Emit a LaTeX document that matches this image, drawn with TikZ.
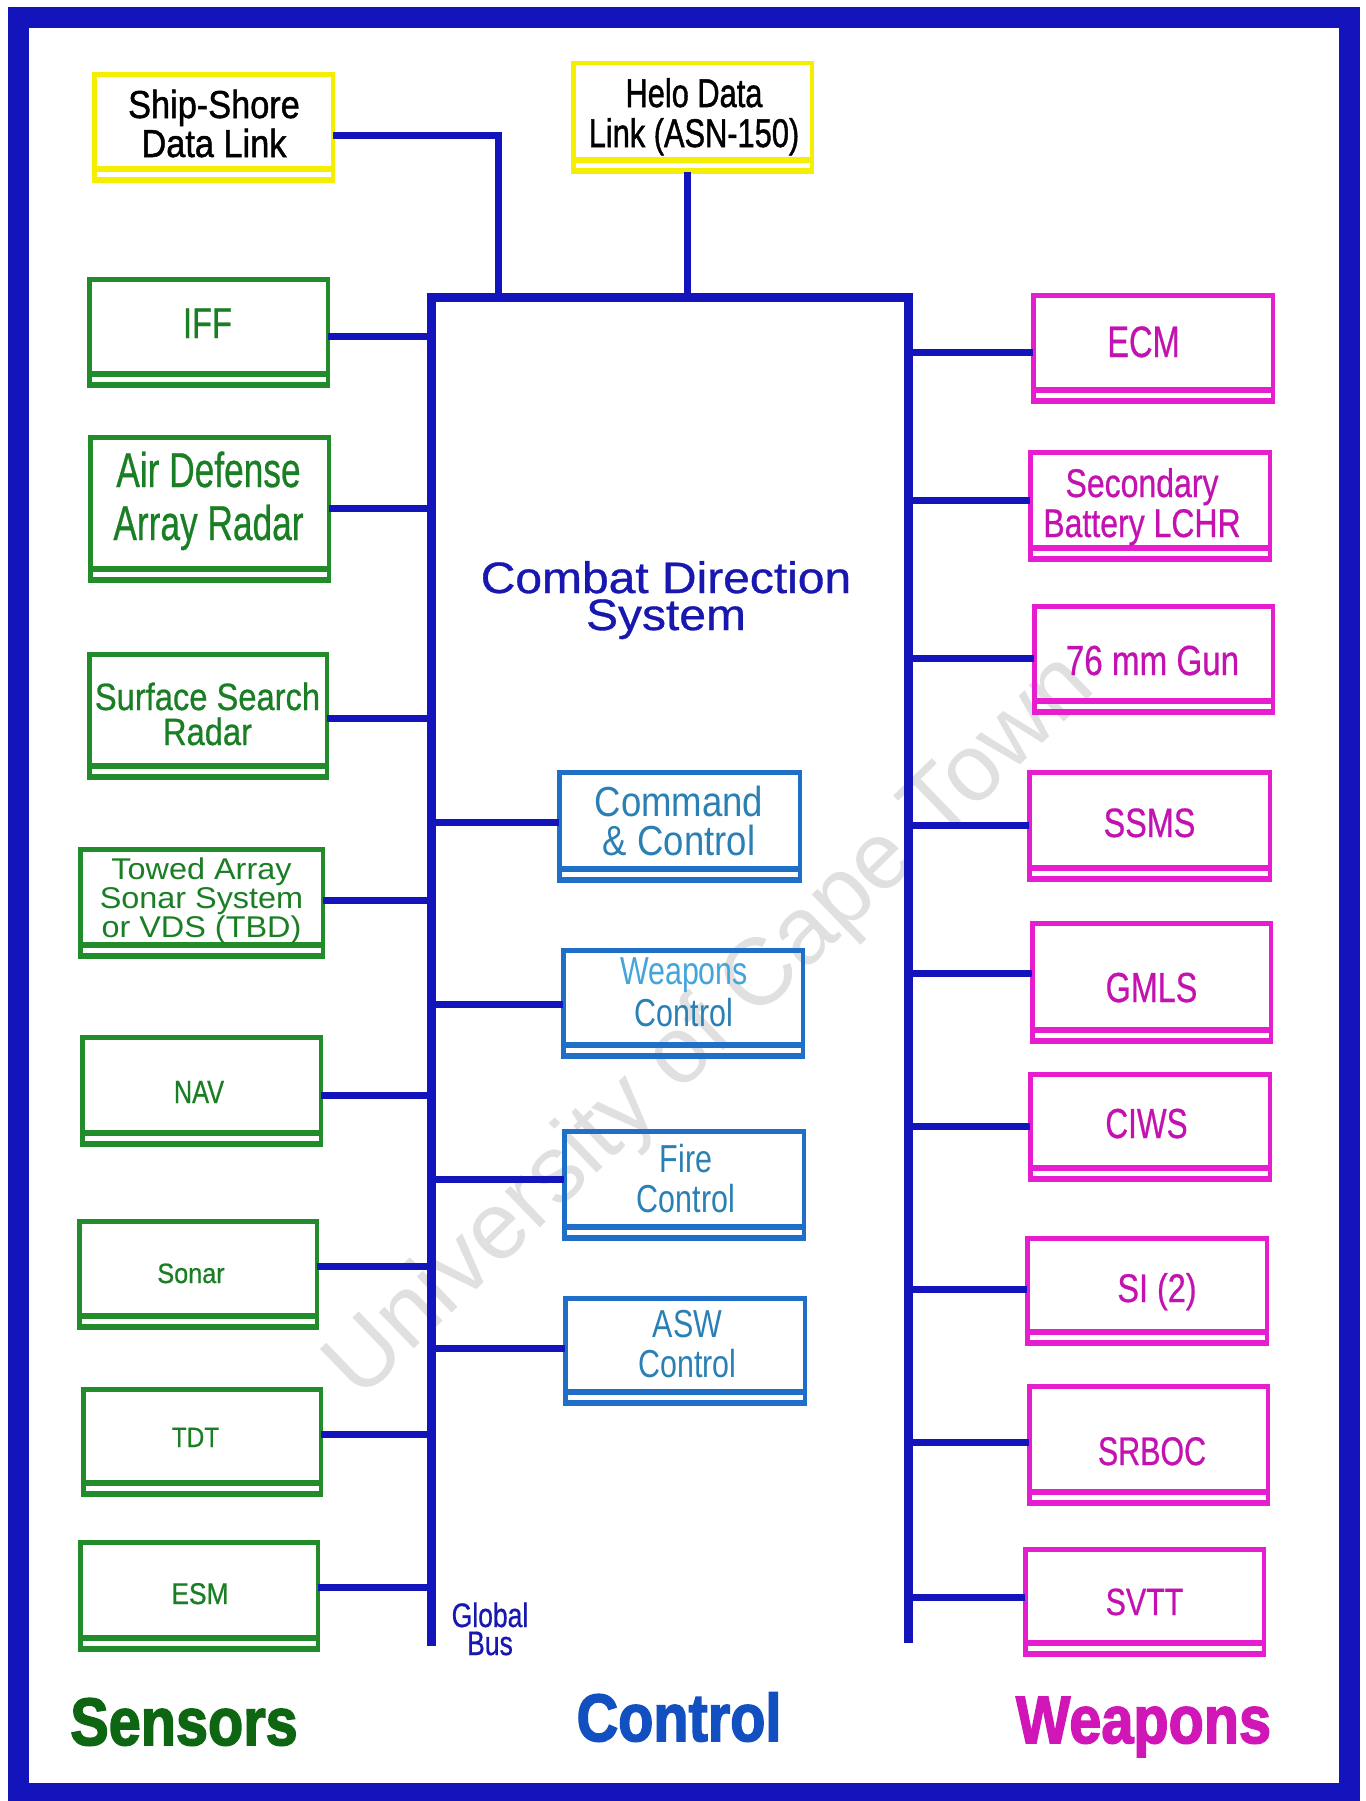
\documentclass[tikz,border=0pt]{standalone}
\usepackage{fontspec}
\usepackage{graphicx}
\setmainfont{Liberation Sans}
\newfontfamily\boxfam[FakeBold=0.7]{Liberation Sans}
\newfontfamily\medfam[FakeBold=1.3]{Liberation Sans}
\newfontfamily\heavy[BoldFeatures={FakeBold=2.5}]{Liberation Sans}
\definecolor{busblue}{HTML}{1414BC}
\definecolor{grn}{HTML}{228B2A}
\definecolor{gtx}{HTML}{1A7F24}
\definecolor{mag}{HTML}{E61ECF}
\definecolor{mtx}{HTML}{C312B0}
\definecolor{ylw}{HTML}{F5EE00}
\definecolor{cbl}{HTML}{1F6FC9}
\definecolor{ctx}{HTML}{2A80B5}
\definecolor{ctxl}{HTML}{45A5DA}
\definecolor{cdsblue}{HTML}{1818B0}
\definecolor{sgreen}{HTML}{0F6612}
\definecolor{cblue}{HTML}{1250C2}
\definecolor{wmag}{HTML}{D116B8}
\newcommand\ml[1]{\vtop{\lineskiplimit=-\maxdimen\lineskip=0pt\halign{\hfil##\hfil\cr#1\crcr}}}
\newcommand\lbl[7][]{\node[lab,#1] (#2) at (#3) {\fontsize{#4}{#5}\selectfont\scalebox{#6}[1]{\ml{#7}}};}
\newcommand\bxn[6]{%
  \node[bx=#2,minimum width={#5-#3-4.5},minimum height={#6-#4-4.5}] (#1) at ({(#3+#5)/2},{(#4+#6)/2}) {};
  \draw[line width=6pt,#2] ([xshift=-2.25pt,yshift=0.75pt]#1.south west) -- ([xshift=2.25pt,yshift=0.75pt]#1.south east);
  \draw[line width=6pt,#2] ([xshift=-2.25pt,yshift=11.75pt]#1.south west) -- ([xshift=2.25pt,yshift=11.75pt]#1.south east);}
\begin{document}
\begin{tikzpicture}[x=1pt,y=-1pt,
  bx/.style={draw=#1,line width=4.5pt,rectangle,inner sep=0pt,outer sep=0pt},
  lab/.style={anchor=base,inner sep=0pt,outer sep=0pt,font=\boxfam},
  conn/.style={draw=busblue,line width=7pt,line join=miter},
  busline/.style={draw=busblue,line width=9pt,line join=miter}]
\useasboundingbox (0,0) rectangle (1365,1801);
\fill[white] (0,0) rectangle (1365,1801);
% watermark
\node[rotate=44,text=black!12,font=\fontsize{95}{95}\selectfont,inner sep=0pt] (wm) at (712,1028) {University of Cape Town};
% outer frame
\draw[busblue,line width=21pt] (18,18) rectangle (1349.5,1793);
% boxes
\bxn{ssdl}{ylw}{92}{72}{335}{183}
\bxn{helo}{ylw}{571}{61}{814}{174}
\bxn{iff}{grn}{87}{277}{330}{388}
\bxn{adar}{grn}{88}{435}{331}{583}
\bxn{ssr}{grn}{87}{652}{329}{780}
\bxn{tas}{grn}{78}{847}{325}{959}
\bxn{nav}{grn}{80}{1035}{323}{1147}
\bxn{sonar}{grn}{77}{1219}{319}{1330}
\bxn{tdt}{grn}{81}{1387}{323}{1497}
\bxn{esm}{grn}{78}{1540}{320}{1652}
\bxn{ecm}{mag}{1031}{293}{1275}{404}
\bxn{sec}{mag}{1028}{450}{1272}{562}
\bxn{gun}{mag}{1032}{604}{1275}{715}
\bxn{ssms}{mag}{1027}{770}{1272}{882}
\bxn{gmls}{mag}{1030}{921}{1273}{1044}
\bxn{ciws}{mag}{1028}{1072}{1272}{1182}
\bxn{si}{mag}{1025}{1236}{1269}{1346}
\bxn{srboc}{mag}{1027}{1384}{1270}{1506}
\bxn{svtt}{mag}{1023}{1547}{1266}{1657}
\bxn{cc}{cbl}{557}{770}{802}{883}
\bxn{wc}{cbl}{561}{948}{805}{1059}
\bxn{fc}{cbl}{562}{1129}{806}{1241}
\bxn{asw}{cbl}{563}{1296}{807}{1406}
% labels
\lbl[text=black,font=\medfam]{ssdlt}{214,118}{39}{39}{0.88}{Ship-Shore\cr Data Link}
\lbl[text=black,font=\medfam]{helot}{694,107}{40}{40}{0.77}{Helo Data\cr Link (ASN-150)}
\lbl[text=gtx]{ifft}{207.5,338}{43}{43}{0.76}{IFF}
\lbl[text=gtx]{adart}{208.5,487}{49}{53}{0.72}{Air Defense\cr Array Radar}
\lbl[text=gtx]{ssrt}{207.5,710}{38}{35}{0.86}{Surface Search\cr Radar}
\lbl[text=gtx,font=\rmfamily]{tast}{201.5,879}{30}{29}{1.08}{Towed Array\cr Sonar System\cr or VDS (TBD)}
\lbl[text=gtx]{navt}{199,1103}{32}{32}{0.79}{NAV}
\lbl[text=gtx]{sonart}{191,1283}{28}{28}{0.9}{Sonar}
\lbl[text=gtx]{tdtt}{195.5,1447}{28}{28}{0.87}{TDT}
\lbl[text=gtx]{esmt}{200,1604}{30}{30}{0.88}{ESM}
\lbl[text=mtx]{ecmt}{1143.5,357}{44}{44}{0.74}{ECM}
\lbl[text=mtx]{sect}{1142,497}{40}{40}{0.8}{Secondary\cr Battery LCHR}
\lbl[text=mtx]{gunt}{1152.5,675}{42}{42}{0.79}{76 mm Gun}
\lbl[text=mtx]{ssmst}{1149.5,837}{41}{41}{0.79}{SSMS}
\lbl[text=mtx]{gmlst}{1151.5,1002}{42}{42}{0.77}{GMLS}
\lbl[text=mtx]{ciwst}{1146.5,1138}{42}{42}{0.75}{CIWS}
\lbl[text=mtx]{sit}{1157,1302}{40}{40}{0.81}{SI (2)}
\lbl[text=mtx]{srboct}{1152,1465}{40}{40}{0.76}{SRBOC}
\lbl[text=mtx]{svttt}{1144.5,1615}{38}{38}{0.8}{SVTT}
\lbl[text=ctx,font=\rmfamily]{cct}{679,816}{42}{39}{0.87}{Command\cr \& Control}
\lbl[text=ctx,font=\rmfamily]{wct}{684,984}{39}{42}{0.78}{\textcolor{ctxl}{Weapons}\cr Control}
\lbl[text=ctx,font=\rmfamily]{fct}{686,1172}{39}{40}{0.78}{Fire\cr Control}
\lbl[text=ctx,font=\rmfamily]{aswt}{687.5,1337}{39}{40}{0.78}{ASW\cr Control}
\lbl[text=cdsblue]{cdst}{666,593}{44}{37}{1.09}{Combat Direction\cr System}
\lbl[text=cdsblue]{gbt}{490,1627}{34}{28}{0.78}{Global\cr Bus}
\lbl[text=sgreen,font=\heavy\bfseries]{senst}{184,1745}{67}{67}{0.86}{Sensors}
\lbl[text=cblue,font=\heavy\bfseries]{ctrlt}{679,1741}{67}{67}{0.86}{Control}
\lbl[text=wmag,font=\heavy\bfseries]{weapt}{1143.5,1743}{67}{67}{0.86}{Weapons}
% bus coordinates
\coordinate (busL) at (431,297);
\coordinate (busR) at (908,297);
\coordinate (busLb) at (431,1646);
\coordinate (busRb) at (908,1643);
\coordinate (ssj) at (498,297);
% connectors
\path ([yshift=-7.5pt]ssdl.east) coordinate (c-ssdl);
\draw[conn] (c-ssdl) -- (c-ssdl -| ssj) -- (ssj);
\path ([xshift=-5.5pt]helo.south) coordinate (c-helo);
\draw[conn] (c-helo) -- (c-helo |- busL);
\foreach \n/\dy in {iff/-3.5,adar/1,ssr/-2,tas/3,nav/-4,sonar/8.5,tdt/8,esm/9}{
  \path ([yshift=\dy pt]\n.east) coordinate (c-\n);
  \draw[conn] (c-\n) -- (c-\n -| busL);}
\foreach \n/\dy in {ecm/-3.5,sec/6,gun/1.5,ssms/1,gmls/9.5,ciws/1,si/2,srboc/3,svtt/5}{
  \path ([yshift=\dy pt]\n.west) coordinate (c-\n);
  \draw[conn] (c-\n -| busR) -- (c-\n);}
\foreach \n/\dy in {cc/4.5,wc/-0.5,fc/6,asw/3}{
  \path ([yshift=\dy pt]\n.west) coordinate (c-\n);
  \draw[conn] (c-\n -| busL) -- (c-\n);}
% global bus
\draw[busline] (busLb) -- (busL) -- (busR) -- (busRb);
\end{tikzpicture}
\end{document}
